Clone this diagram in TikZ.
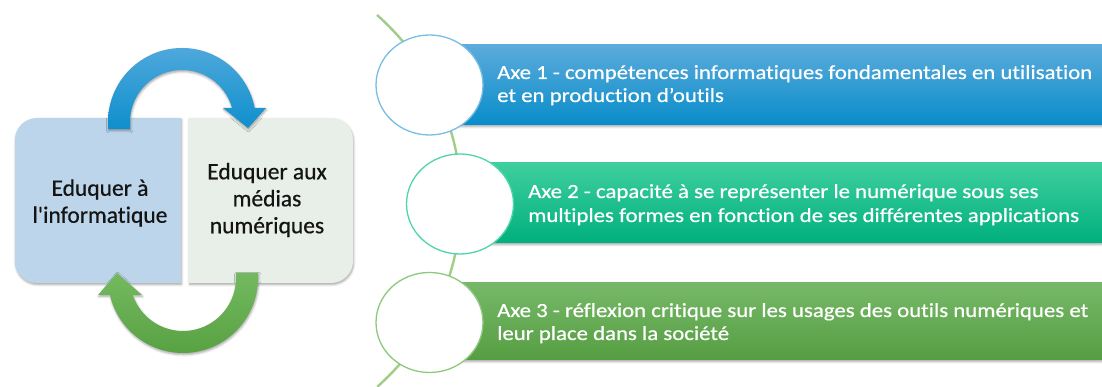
\documentclass[tikz,border=0pt]{standalone}
\usepackage{fontspec}
\setmainfont{Carlito}
\newfontfamily\calib{Carlito}[Ligatures=NoCommon, FakeBold=0.6]
\usetikzlibrary{shapes.geometric,shadows.blur}
\definecolor{leftfill}{RGB}{189,213,234}
\definecolor{rightfill}{RGB}{232,238,232}
\definecolor{bluetop}{RGB}{78,168,219}
\definecolor{bluebot}{RGB}{14,143,204}
\definecolor{greentop}{RGB}{116,185,96}
\definecolor{greenbot}{RGB}{88,162,66}
\definecolor{baronetop}{RGB}{92,171,219}
\definecolor{baronebot}{RGB}{8,141,202}
\definecolor{bartwotop}{RGB}{62,207,157}
\definecolor{bartwobot}{RGB}{0,176,125}
\definecolor{barthreetop}{RGB}{118,184,104}
\definecolor{barthreebot}{RGB}{86,158,66}
\definecolor{ringone}{RGB}{120,190,228}
\definecolor{ringtwo}{RGB}{80,212,172}
\definecolor{ringthree}{RGB}{140,200,125}
\definecolor{curvecol}{RGB}{160,205,135}
\definecolor{boxtext}{RGB}{20,20,20}
\newcommand{\barline}[1]{\scalebox{1.14}[1]{#1}}
\tikzset{
  softshadow/.style={blur shadow={shadow xshift=0.6pt, shadow yshift=-1.6pt, shadow blur radius=2.2pt, shadow opacity=35}},
  boxlabel/.style={font=\calib\fontsize{23.5}{27}\selectfont, text=boxtext, align=center, inner sep=0pt},
  bartext/.style={font=\calib\fontsize{20}{23}\selectfont, text=white, inner sep=0pt, anchor=base west},
  ring/.style={ellipse, draw=#1, line width=1.3pt, fill=white, minimum width=107pt, minimum height=100pt, inner sep=0pt},
}
\begin{document}
\begin{tikzpicture}[x=1pt,y=1pt]
\useasboundingbox (0,0) rectangle (1102,387);
% ---------- left part: two boxes ----------
\path[fill=leftfill, softshadow] (181,104) -- (37,104) arc[start angle=270, end angle=180, radius=22] -- (15,247) arc[start angle=180, end angle=90, radius=22] -- (181,269) -- cycle;
\path[fill=rightfill, softshadow] (189,104) -- (331,104) arc[start angle=270, end angle=360, radius=22] -- (353,247) arc[start angle=0, end angle=90, radius=22] -- (189,269) -- cycle;
\node[boxlabel] (lefttext) at (100,184) {Eduquer à\\l'informatique};
\node[boxlabel] (righttext) at (267,187) {Eduquer aux\\médias\\numériques};
% blue arrow (top)
\path[top color=bluetop, bottom color=bluebot, softshadow] (108,258) -- (108,265) arc[start angle=180, end angle=10.9, radius=74] -- (266,279) -- (248,259) -- (223,279) -- (232.1,279) arc[start angle=15.6, end angle=180, radius=52] -- (130,258) -- cycle;
% green arrow (bottom)
\path[top color=greentop, bottom color=greenbot, softshadow] (258,114) -- (258,109) arc[start angle=0, end angle=-166.9, radius=75] -- (98,92) -- (117,114) -- (142,92) -- (132.8,92) arc[start angle=-161.3, end angle=0, radius=53] -- (236,114) -- cycle;
% ---------- right part ----------
\draw[curvecol, line width=2.4pt] (213,186) ++(48.6:248) arc[start angle=48.6, end angle=-48.5, radius=248];
\path[top color=baronetop, bottom color=baronebot, softshadow] (430,262) rectangle (1102,342);
\path[top color=bartwotop, bottom color=bartwobot, softshadow] (460,144) rectangle (1102,224);
\path[top color=barthreetop, bottom color=barthreebot, softshadow] (430,27) rectangle (1102,104);
\node[ring=ringone] (c1) at (429.5,302) {};
\node[ring=ringtwo] (c2) at (460,183) {};
\node[ring=ringthree] (c3) at (429.5,64.5) {};
\node[bartext] (a1) at (497,308) {\barline{Axe 1 - compétences informatiques fondamentales en utilisation}};
\node[bartext] (a1b) at (497,285) {\barline{et en production d’outils}};
\node[bartext] (a2) at (528,189) {\barline{Axe 2 - capacité à se représenter le numérique sous ses}};
\node[bartext] (a2b) at (528,165) {\barline{multiples formes en fonction de ses différentes applications}};
\node[bartext] (a3) at (497,70) {\barline{Axe 3 - réflexion critique sur les usages des outils numériques et}};
\node[bartext] (a3b) at (497,47) {\barline{leur place dans la société}};
\end{tikzpicture}
\end{document}
